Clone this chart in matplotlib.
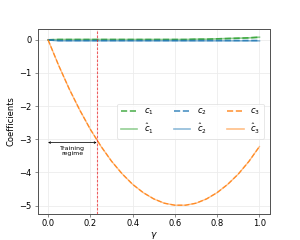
import matplotlib
matplotlib.use("Agg")
import matplotlib.pyplot as plt
import numpy as np

gamma = [0.0, 0.05, 0.1, 0.15, 0.2, 0.25, 0.3, 0.35, 0.4, 0.45, 0.5,
         0.55, 0.6, 0.65, 0.7, 0.75, 0.8, 0.85, 0.9, 0.95, 1.0]
c1 = [0.0, 0.01, 0.01, 0.01, 0.01, 0.01, 0.01, 0.01, 0.01, 0.01, 0.01,
      0.01, 0.01, 0.01, 0.02, 0.02, 0.03, 0.04, 0.05, 0.06, 0.08]
c1_hat = [0.0, 0.01, 0.01, 0.01, 0.01, 0.01, 0.01, 0.01, 0.01, 0.01, 0.01,
          0.01, 0.01, 0.01, 0.02, 0.02, 0.03, 0.04, 0.05, 0.06, 0.08]
c2 = [0.0, -0.02, -0.02, -0.02, -0.02, -0.02, -0.02, -0.02, -0.02, -0.02, -0.02,
      -0.02, -0.02, -0.02, -0.02, -0.02, -0.02, -0.02, -0.02, -0.02, -0.02]
c2_hat = [0.0, -0.03, -0.03, -0.03, -0.03, -0.03, -0.03, -0.03, -0.03, -0.03, -0.03,
          -0.03, -0.03, -0.03, -0.03, -0.03, -0.03, -0.03, -0.03, -0.03, -0.03]
c3 = [0.0, -0.77, -1.48, -2.12, -2.70, -3.21, -3.66, -4.04, -4.36, -4.61, -4.80,
      -4.93, -4.99, -4.99, -4.93, -4.80, -4.61, -4.36, -4.05, -3.67, -3.22]
c3_hat = [0.0, -0.77, -1.48, -2.12, -2.70, -3.21, -3.66, -4.04, -4.36, -4.61, -4.80,
          -4.93, -4.99, -4.99, -4.93, -4.80, -4.61, -4.36, -4.05, -3.67, -3.22]
train_end = 0.23
arrow_y = -3.1

fig, ax = plt.subplots(figsize=(5, 4), dpi=60)
ax.grid(True, color="#ececec", linewidth=1)
ax.set_axisbelow(True)
for s in ax.spines.values():
    s.set_color("#555555")
    s.set_linewidth(1.2)

colors = ["#2ca02c", "#1f77b4", "#ff7f0e"]
series = [(c1, c1_hat), (c2, c2_hat), (c3, c3_hat)]
for i, (c, ch) in enumerate(series):
    ax.plot(gamma, ch, linestyle="-", color=colors[i], alpha=0.5, lw=2,
            label=rf"$\hat{{c}}_{i+1}$")
    ax.plot(gamma, c, linestyle="--", color=colors[i], alpha=0.8, lw=2,
            label=rf"$c_{i+1}$")
# main visible curve drawn crisper
ax.lines[-1].set_linewidth(1.6)
ax.lines[-2].set_linewidth(1.6)

ax.axvline(train_end, color="#e41a1c", linestyle=(0, (2.5, 1.2)), alpha=0.7, lw=1.3)
ax.annotate("", xy=(0.0, arrow_y), xytext=(train_end, arrow_y),
            arrowprops=dict(arrowstyle="<->", color="black", lw=0.9,
                            shrinkA=0, shrinkB=0, mutation_scale=5))
ax.text(train_end / 2, arrow_y - 0.1, "Training\nregime", ha="center", va="top",
        fontsize=7.5, linespacing=1.0)

ax.tick_params(labelsize=10, length=3.5, color="#555555")
ax.set_xticks([0.0, 0.2, 0.4, 0.6, 0.8, 1.0])
ax.set_yticks([0, -1, -2, -3, -4, -5])
ax.set_xlabel(r"$\gamma$", fontsize=11, labelpad=2)
ax.set_ylabel("Coefficients", fontsize=10)

h, l = ax.get_legend_handles_labels()
order = [1, 0, 3, 2, 5, 4]
leg = ax.legend([h[k] for k in order], [l[k] for k in order], ncol=3, loc="center right",
                bbox_to_anchor=(0.99, 0.50), fontsize=10,
                handlelength=2.0, columnspacing=2.4, framealpha=0.8, edgecolor="#dddddd")
for lh in leg.get_lines():
    lh.set_linewidth(2)
fig.savefig("out.png")
